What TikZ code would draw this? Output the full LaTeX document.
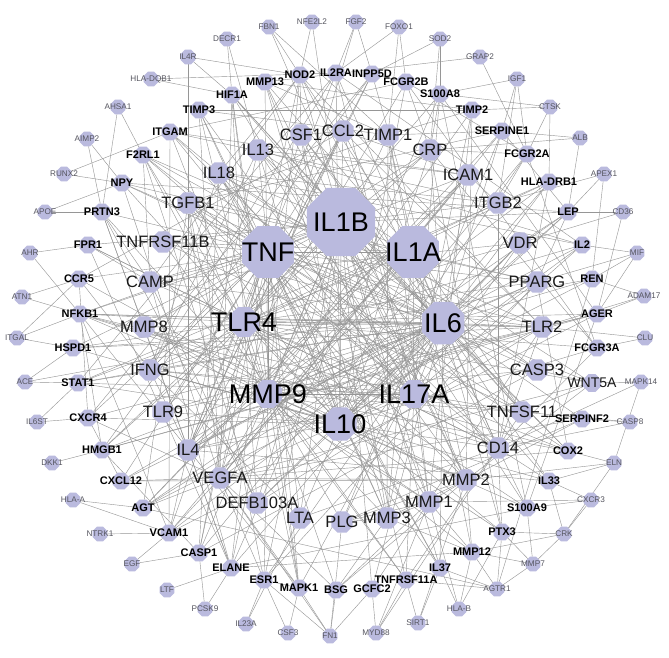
\documentclass[tikz,border=0pt]{standalone}
\usepackage{fontspec}
\setmainfont{Liberation Sans}
\usetikzlibrary{shapes.geometric}
\definecolor{nodefill}{RGB}{186,186,222}
\definecolor{edgecol}{RGB}{150,150,150}
\definecolor{outtext}{RGB}{85,85,95}
\pgfdeclarelayer{bgpaper}
\pgfdeclarelayer{bg}
\pgfsetlayers{bgpaper,bg,main}
\tikzset{
 oct/.style={regular polygon, regular polygon sides=8, fill=nodefill, draw=none, inner sep=0pt, outer sep=0pt},
 outlbl/.style={font=\fontsize{8.2}{9}\selectfont, text=outtext, inner sep=0pt},
 midlbl/.style={font=\fontsize{11}{12}\selectfont\bfseries, text=black, inner sep=0pt},
 innlbl/.style={font=\fontsize{16.5}{18}\selectfont, text=black!90, inner sep=0pt},
 wntlbl/.style={font=\fontsize{14}{15}\selectfont, text=black!90, inner sep=0pt},
 cenlbl/.style={font=\fontsize{27}{29}\selectfont, text=black, inner sep=0pt},
 outn/.style={oct, minimum size=16pt, label={[outlbl]center:#1}},
 midn/.style={oct, minimum size=18pt, label={[midlbl]center:#1}},
 innn/.style={oct, minimum size=23pt, label={[innlbl]center:#1}},
 cenn/.style n args={2}{oct, minimum size=#2, label={[cenlbl]center:#1}},
 edge/.style={draw=edgecol, line width=0.42pt},
}
\begin{document}
\begin{tikzpicture}[x=1pt,y=-1pt]
\begin{pgfonlayer}{bgpaper}
\fill[white] (0,0) rectangle (669,658);
\end{pgfonlayer}
\useasboundingbox (0,0) rectangle (669,658);
% outer ring
\foreach \n/\t/\x/\y in {FBN1/FBN1/269/27, NFE2L2/NFE2L2/312/22, FGF2/FGF2/356/22, FOXO1/FOXO1/399/27,
 SOD2/SOD2/440/39, GRAP2/GRAP2/480/57, IGF1/IGF1/517/79, CTSK/CTSK/550/107, ALB/ALB/580/138,
 APEX1/APEX1/604/174, CD36/CD36/623/212, MIF/MIF/637/253, ADAM17/ADAM17/644/296, CLU/CLU/645/338,
 MAPK14/MAPK14/641/382, CASP8/CASP8/630/422, ELN/ELN/614/463, CXCR3/CXCR3/591/500, CRK/CRK/564/534,
 MMP7/MMP7/533/564, AGTR1/AGTR1/497/589, HLAB/HLA-B/459/609, SIRT1/SIRT1/418/623, MYD88/MYD88/376/633,
 FN1/FN1/330/636, CSF3/CSF3/288/633, IL23A/IL23A/246/624, PCSK9/PCSK9/205/609, LTF/LTF/167/590,
 EGF/EGF/132/564, NTRK1/NTRK1/100/534, HLAA/HLA-A/73/500, DKK1/DKK1/52/463, IL6ST/IL6ST/37/422,
 ACE/ACE/25/382, ITGAL/ITGAL/17/338, ATN1/ATN1/22/297, AHR/AHR/30/253, APOE/APOE/45/212,
 RUNX2/RUNX2/64/174, AIMP2/AIMP2/87/139, AHSA1/AHSA1/118/107, HLADQB1/HLA-DQB1/151/79,
 IL4R/IL4R/188/57, DECR1/DECR1/227/39}
 \node[outn=\t] (\n) at (\x,\y) {};
% middle ring
\foreach \n/\t/\x/\y in {NOD2/NOD2/300/75, IL2RA/IL2RA/336/73, INPP5D/INPP5D/372/74, FCGR2B/FCGR2B/406/82,
 S100A8/S100A8/440/94, TIMP2/TIMP2/472/110, SERPINE1/SERPINE1/502/131, FCGR2A/FCGR2A/527/154,
 HLADRB1/HLA-DRB1/549/182, LEP/LEP/568/212, IL2/IL2/582/245, REN/REN/592/279, AGER/AGER/597/314,
 FCGR3A/FCGR3A/597/348, SERPINF2/SERPINF2/582/419, COX2/COX2/568/451, IL33/IL33/549/481,
 S100A9/S100A9/527/508, PTX3/PTX3/502/532, MMP12/MMP12/472/552, IL37/IL37/440/568,
 TNFRSF11A/TNFRSF11A/406/580, GCFC2/GCFC2/372/589, BSG/BSG/336/590, MAPK1/MAPK1/299/588,
 ESR1/ESR1/264/580, ELANE/ELANE/231/568, CASP1/CASP1/199/553, VCAM1/VCAM1/169/533, AGT/AGT/143/508,
 CXCL12/CXCL12/121/481, HMGB1/HMGB1/102/450, CXCR4/CXCR4/88/418, STAT1/STAT1/78/383,
 HSPD1/HSPD1/73/348, NFKB1/NFKB1/80/314, CCR5/CCR5/79/279, FPR1/FPR1/88/245, PRTN3/PRTN3/102/212,
 NPY/NPY/122/183, F2RL1/F2RL1/143/155, ITGAM/ITGAM/170/132, TIMP3/TIMP3/199/110, HIF1A/HIF1A/232/95,
 MMP13/MMP13/265/82}
 \node[midn=\t] (\n) at (\x,\y) {};
\node[oct, minimum size=19pt, label={[wntlbl]center:WNT5A}] (WNT5A) at (592,383) {};
% inner ring
\foreach \n/\x/\y in {CSF1/301/135, CCL2/343/131, TIMP1/388/135, CRP/430/150, ICAM1/468/175,
 ITGB2/498/203, VDR/520/243, PPARG/537/282, TLR2/542/327, CASP3/537/370, TNFSF11/522/412,
 CD14/498/448, MMP2/466/480, MMP1/429/502, MMP3/387/518, PLG/342/522, LTA/300/518,
 DEFB103A/257/503, VEGFA/220/478, IL4/188/450, TLR9/163/412, IFNG/150/370, MMP8/144/327,
 CAMP/150/282, TNFRSF11B/163/242, TGFB1/188/203, IL18/219/173, IL13/258/150}
 \node[innn=\n] (\n) at (\x,\y) {};
% centre
\node[cenn={IL1B}{74pt}] (IL1B) at (341,222) {};
\node[cenn={TNF}{56pt}] (TNF) at (268,252) {};
\node[cenn={IL1A}{56pt}] (IL1A) at (413,252) {};
\node[cenn={TLR4}{32pt}] (TLR4) at (244,322) {};
\node[cenn={IL6}{46pt}] (IL6) at (443,323) {};
\node[cenn={MMP9}{30pt}] (MMP9) at (268,394) {};
\node[cenn={IL17A}{30pt}] (IL17A) at (414,394) {};
\node[cenn={IL10}{36pt}] (IL10) at (340,424) {};
\begin{pgfonlayer}{bg}
% outer ring links
\foreach \a/\b in {
 FBN1/NOD2, FBN1/MMP2, FBN1/TIMP1, NFE2L2/NOD2, NFE2L2/IL1B, FGF2/IL2RA, FGF2/INPP5D, FGF2/VEGFA,
 FOXO1/FCGR2B, FOXO1/IL2RA, FOXO1/TIMP1, SOD2/S100A8, SOD2/INPP5D, SOD2/CRP, GRAP2/MMP13, GRAP2/FCGR2A,
 IGF1/SERPINE1, IGF1/ITGB2, IGF1/S100A8, IGF1/FCGR2A, CTSK/TIMP2, CTSK/HLADRB1, CTSK/FCGR2A, CTSK/S100A8,
 ALB/CRP, ALB/LEP, ALB/SERPINE1, APEX1/LEP, APEX1/REN, APEX1/ITGB2, CD36/VDR, CD36/LEP, CD36/AGER,
 MIF/IL2, MIF/REN, MIF/PPARG, MIF/AGER, ADAM17/REN, ADAM17/AGER, ADAM17/TLR2, CLU/TLR2, CLU/FCGR3A,
 MAPK14/WNT5A, MAPK14/CD14, MAPK14/ELN, CASP8/SERPINF2, CASP8/CD14, CASP8/TNFSF11,
 ELN/COX2, ELN/MMP2, ELN/IL33, ELN/CRK, CXCR3/IL33, CXCR3/S100A9, CXCR3/MMP1, CXCR3/CRK,
 CRK/PTX3, CRK/MMP7, CRK/IL33, CRK/MMP12, MMP7/PTX3, MMP7/S100A9, MMP7/MMP12, MMP7/AGTR1,
 AGTR1/MMP12, AGTR1/IL37, AGTR1/TNFRSF11A, AGTR1/PTX3, HLAB/MMP12, HLAB/IL37, HLAB/PTX3, HLAB/MMP1,
 SIRT1/IL37, SIRT1/TNFRSF11A, SIRT1/MMP2, MYD88/GCFC2, MYD88/TNFRSF11A, MYD88/CD14, MYD88/MMP1,
 FN1/BSG, FN1/MAPK1, FN1/ESR1, FN1/PLG, FN1/GCFC2, FN1/VEGFA, CSF3/ESR1, CSF3/MAPK1, IL23A/ESR1, IL23A/LTA,
 PCSK9/ELANE, PCSK9/CASP1, LTF/ELANE, EGF/CASP1, EGF/VCAM1, NTRK1/VCAM1, HLAA/VCAM1, HLAA/AGT,
 DKK1/HMGB1, IL6ST/CXCR4, IL6ST/STAT1, ACE/STAT1, ACE/HSPD1, ITGAL/NFKB1, ITGAL/CCR5, ITGAL/HSPD1,
 ATN1/NFKB1, ATN1/CCR5, AHR/NFKB1, AHR/FPR1, APOE/PRTN3, APOE/NPY, RUNX2/NPY, RUNX2/ITGAM,
 AIMP2/PRTN3, AIMP2/NPY, AHSA1/PRTN3, AHSA1/F2RL1, HLADQB1/IL2RA, HLADQB1/HIF1A,
 IL4R/TGFB1, IL4R/NOD2, IL4R/HIF1A, DECR1/HIF1A, DECR1/IL13}
 \draw[edge] (\a) -- (\b);
% middle ring links
\foreach \a/\b in {
 NOD2/IL1B, NOD2/TLR2, NOD2/IL18, NOD2/CSF1, NOD2/CAMP, NOD2/MMP9, NOD2/CD14, NOD2/TNFSF11,
 IL2RA/IL2, IL2RA/IL10, IL2RA/IL17A, IL2RA/IL4, IL2RA/CD14, IL2RA/IFNG, IL2RA/STAT1,
 INPP5D/IL6, INPP5D/TLR4, INPP5D/IL4, INPP5D/FCGR2B, INPP5D/HMGB1, INPP5D/CXCR4,
 FCGR2B/FCGR2A, FCGR2B/IL10, FCGR2B/IL4, FCGR2B/FCGR3A, FCGR2B/CRP, FCGR2B/ITGAM,
 S100A8/S100A9, S100A8/TLR4, S100A8/AGER, S100A8/CRP, S100A8/IL17A, S100A8/ELANE,
 TIMP2/MMP2, TIMP2/MMP9, TIMP2/TIMP1, TIMP2/MMP1, TIMP2/MMP13, TIMP2/TIMP3, TIMP2/MMP3,
 SERPINE1/PLG, SERPINE1/IL6, SERPINE1/VEGFA, SERPINE1/TGFB1, SERPINE1/LEP, SERPINE1/AGT, SERPINE1/TIMP1,
 FCGR2A/FCGR3A, FCGR2A/CRP, FCGR2A/IL10, FCGR2A/ITGB2, FCGR2A/CASP1,
 HLADRB1/IL10, HLADRB1/IFNG, HLADRB1/IL6, HLADRB1/CD14, HLADRB1/STAT1, HLADRB1/IL4,
 LEP/IL6, LEP/IL1B, LEP/PPARG, LEP/VDR, LEP/IL10, LEP/NPY, LEP/AGT,
 IL2/IL10, IL2/IFNG, IL2/IL4, IL2/IL17A, IL2/IL13, IL2/IL18,
 REN/AGT, REN/AGTR1, REN/IL6, REN/ACE,
 AGER/TLR4, AGER/TLR2, AGER/HMGB1, AGER/MMP9, AGER/S100A9, AGER/VCAM1,
 FCGR3A/IL10, FCGR3A/CRP, FCGR3A/TLR4, FCGR3A/CD14,
 WNT5A/IL6, WNT5A/TLR4, WNT5A/IL1B, WNT5A/MMP2, WNT5A/CASP3, WNT5A/TNFSF11, WNT5A/VEGFA,
 SERPINF2/VEGFA, SERPINF2/PLG, SERPINF2/IL6, SERPINF2/MMP2,
 COX2/IL6, COX2/IL1B, COX2/TNF, COX2/TLR4, COX2/VEGFA, COX2/MMP9, COX2/PPARG, COX2/NFKB1,
 IL33/IL6, IL33/IL13, IL33/IL17A, IL33/IL4, IL33/IFNG,
 S100A9/TLR4, S100A9/IL1B, S100A9/CD14, S100A9/ELANE, S100A9/MMP9,
 PTX3/IL6, PTX3/CRP, PTX3/IL10, PTX3/TLR4, PTX3/CD14,
 MMP12/MMP9, MMP12/MMP1, MMP12/TIMP1, MMP12/ELANE, MMP12/MMP2, MMP12/MMP3,
 IL37/IL1B, IL37/IL6, IL37/IL10, IL37/IL18, IL37/TNF,
 TNFRSF11A/TNFSF11, TNFRSF11A/TNFRSF11B, TNFRSF11A/IL17A, TNFRSF11A/MMP9, TNFRSF11A/CSF1,
 GCFC2/IL6, GCFC2/TLR2, GCFC2/IL1B,
 BSG/MMP9, BSG/MMP1, BSG/MMP2, BSG/VEGFA, BSG/MMP3,
 MAPK1/TNF, MAPK1/IL6, MAPK1/TLR4, MAPK1/VEGFA, MAPK1/ESR1, MAPK1/MMP9, MAPK1/NFKB1, MAPK1/HIF1A,
 ESR1/IL6, ESR1/VEGFA, ESR1/IL1B, ESR1/MMP9, ESR1/PPARG, ESR1/TGFB1,
 ELANE/MMP9, ELANE/TNF, ELANE/IL6, ELANE/CAMP, ELANE/PRTN3, ELANE/MMP8,
 CASP1/IL1B, CASP1/IL18, CASP1/TLR4, CASP1/CASP3, CASP1/NOD2,
 VCAM1/TNF, VCAM1/ICAM1, VCAM1/IL6, VCAM1/VEGFA, VCAM1/IL4, VCAM1/ITGAM,
 AGT/IL6, AGT/AGTR1, AGT/TGFB1, AGT/VEGFA, AGT/ICAM1,
 CXCL12/CXCR4, CXCL12/TNF, CXCL12/VEGFA, CXCL12/MMP9, CXCL12/IL6, CXCL12/MMP2,
 HMGB1/TLR4, HMGB1/TLR2, HMGB1/IL6, HMGB1/IL1B, HMGB1/CASP1, HMGB1/NFKB1,
 CXCR4/TNF, CXCR4/IL6, CXCR4/IL10, CXCR4/VEGFA, CXCR4/CCR5,
 STAT1/IFNG, STAT1/IL6, STAT1/IL10, STAT1/TLR4, STAT1/IL17A,
 HSPD1/TLR4, HSPD1/TLR2, HSPD1/IL6, HSPD1/IL10, HSPD1/TNF,
 NFKB1/TNF, NFKB1/IL6, NFKB1/IL1B, NFKB1/TLR4, NFKB1/TLR2, NFKB1/MMP9, NFKB1/IL17A, NFKB1/CD14, NFKB1/VCAM1,
 CCR5/CCL2, CCR5/TNF, CCR5/IL10, CCR5/IFNG,
 FPR1/CAMP, FPR1/IL1B, FPR1/TLR4, FPR1/ELANE, FPR1/CD14,
 PRTN3/MMP9, PRTN3/TNF, PRTN3/CAMP, PRTN3/DEFB103A, PRTN3/MMP8,
 NPY/TNF, NPY/IL6, NPY/IL10, NPY/VEGFA, NPY/PPARG,
 F2RL1/IL6, F2RL1/TNF, F2RL1/TLR4, F2RL1/MMP9, F2RL1/IL17A, F2RL1/CAMP, F2RL1/DEFB103A, F2RL1/TLR2,
 ITGAM/TNF, ITGAM/ICAM1, ITGAM/ITGB2, ITGAM/CD14, ITGAM/TLR4, ITGAM/IL18,
 TIMP3/MMP9, TIMP3/MMP2, TIMP3/MMP3, TIMP3/VEGFA, TIMP3/TIMP1, TIMP3/TNF,
 HIF1A/VEGFA, HIF1A/IL6, HIF1A/IL1B, HIF1A/TLR4, HIF1A/IL17A, HIF1A/MMP9, HIF1A/TNFSF11,
 MMP13/MMP9, MMP13/MMP1, MMP13/MMP3, MMP13/TIMP1, MMP13/MMP2, MMP13/IL1A}
 \draw[edge] (\a) -- (\b);
% inner ring and centre links
\foreach \a/\b in {
 CSF1/IL1B, CSF1/TNF, CSF1/IL6, CSF1/TNFSF11, CSF1/CCL2, CSF1/IL10,
 CCL2/IL1B, CCL2/TNF, CCL2/IL6, CCL2/IL17A, CCL2/TLR4, CCL2/ICAM1, CCL2/IL4, CCL2/TLR2,
 TIMP1/MMP9, TIMP1/MMP2, TIMP1/MMP1, TIMP1/MMP3, TIMP1/TGFB1,
 CRP/IL6, CRP/IL1B, CRP/TNF, CRP/IL10, CRP/TLR4,
 ICAM1/TNF, ICAM1/IL6, ICAM1/VEGFA, ICAM1/ITGB2, ICAM1/IL4, ICAM1/IL13,
 ITGB2/IL1B, ITGB2/CD14, ITGB2/TLR4, ITGB2/IL18,
 VDR/IL6, VDR/IL10, VDR/IL17A, VDR/CAMP, VDR/TLR4, VDR/DEFB103A,
 PPARG/TNF, PPARG/IL6, PPARG/IL10, PPARG/TLR4, PPARG/MMP9, PPARG/TGFB1,
 TLR2/TLR4, TLR2/TNF, TLR2/IL6, TLR2/IL10, TLR2/CD14, TLR2/CAMP, TLR2/DEFB103A, TLR2/TLR9,
 CASP3/TNF, CASP3/IL1B, CASP3/MMP9, CASP3/IL18,
 TNFSF11/TNF, TNFSF11/IL6, TNFSF11/IL17A, TNFSF11/TNFRSF11B, TNFSF11/IFNG, TNFSF11/MMP9,
 CD14/TLR4, CD14/TNF, CD14/IL6, CD14/IL10, CD14/LTA,
 MMP2/MMP9, MMP2/IL1B, MMP2/VEGFA, MMP2/MMP1, MMP2/MMP3, MMP2/TGFB1, MMP2/MMP8,
 MMP1/TNF, MMP1/IL1B, MMP1/MMP3, MMP1/MMP9, MMP1/IL17A, MMP1/MMP8,
 MMP3/TNF, MMP3/IL1B, MMP3/MMP9, MMP3/PLG, MMP3/IL1A,
 PLG/MMP9, PLG/MMP2, PLG/MMP1, PLG/IL6,
 LTA/TNF, LTA/IL1B, LTA/IL10, LTA/IFNG,
 DEFB103A/IL1B, DEFB103A/CAMP, DEFB103A/IL10, DEFB103A/TLR4,
 VEGFA/TNF, VEGFA/IL6, VEGFA/MMP9, VEGFA/IL10, VEGFA/IL1A, VEGFA/TGFB1,
 IL4/IL10, IL4/IFNG, IL4/IL13, IL4/TNF, IL4/IL6, IL4/IL17A,
 TLR9/TLR4, TLR9/TNF, TLR9/IL6, TLR9/IL10,
 IFNG/TNF, IFNG/IL10, IFNG/IL6, IFNG/IL17A, IFNG/IL18, IFNG/IL13,
 MMP8/MMP9, MMP8/TNF, MMP8/IL1B, MMP8/IL6,
 CAMP/IL1B, CAMP/TNF, CAMP/TLR4,
 TNFRSF11B/TNF, TNFRSF11B/IL1B, TNFRSF11B/IL6, TNFRSF11B/IL1A,
 TGFB1/TNF, TGFB1/IL6, TGFB1/IL10, TGFB1/IL17A, TGFB1/IL4, TGFB1/MMP9,
 IL18/TNF, IL18/IL1B, IL18/IL6, IL18/IL10, IL18/IL17A,
 IL13/TNF, IL13/IL6, IL13/IL10, IL13/IL17A, IL13/IL1A,
 IL1B/TNF, IL1B/IL1A, IL1B/IL6, IL1B/IL10, IL1B/TLR4, IL1B/MMP9, IL1B/IL17A,
 TNF/IL1A, TNF/IL6, TNF/IL10, TNF/TLR4, TNF/MMP9, TNF/IL17A,
 IL1A/IL6, IL1A/IL10, IL1A/TLR4, IL1A/MMP9, IL1A/IL17A,
 TLR4/IL6, TLR4/IL10, TLR4/MMP9, TLR4/IL17A, IL6/IL10, IL6/MMP9, IL6/IL17A,
 MMP9/IL10, MMP9/IL17A, IL17A/IL10}
 \draw[edge] (\a) -- (\b);
\end{pgfonlayer}
\end{tikzpicture}
\end{document}
